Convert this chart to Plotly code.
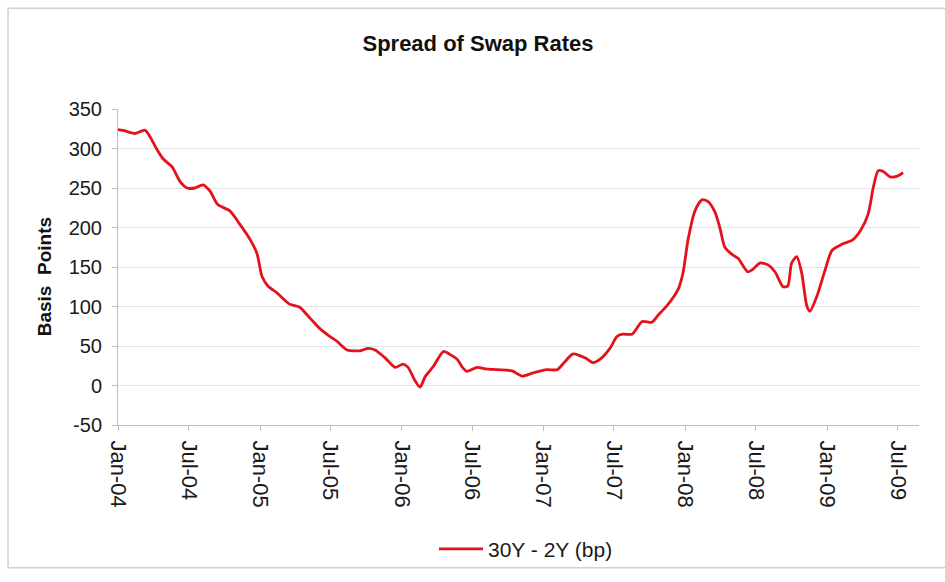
import plotly.graph_objects as go

dates = [
    "2004-01-01", "2004-01-14", "2004-02-13", "2004-03-11", "2004-04-10", "2004-04-26", "2004-05-19",
    "2004-06-09", "2004-06-27", "2004-07-17", "2004-08-07", "2004-08-25", "2004-09-14",
    "2004-10-15", "2004-11-10", "2004-12-06", "2004-12-24", "2005-01-06", "2005-01-21",
    "2005-02-14", "2005-03-18", "2005-04-13", "2005-05-10", "2005-06-04", "2005-06-30",
    "2005-07-18", "2005-08-13", "2005-09-16", "2005-10-06", "2005-10-24", "2005-11-19",
    "2005-12-15", "2006-01-04", "2006-01-17", "2006-02-04", "2006-02-17", "2006-03-02",
    "2006-03-23", "2006-04-18", "2006-05-06", "2006-05-24", "2006-06-06", "2006-06-18",
    "2006-07-14", "2006-08-04", "2006-09-04", "2006-10-12", "2006-11-07", "2006-12-05",
    "2007-01-10", "2007-02-05", "2007-02-25", "2007-03-18", "2007-04-18", "2007-05-08",
    "2007-05-26", "2007-06-21", "2007-07-09", "2007-07-24", "2007-08-17", "2007-09-12",
    "2007-10-07", "2007-10-23", "2007-11-15", "2007-12-13", "2007-12-26", "2008-01-08",
    "2008-01-26", "2008-02-13", "2008-02-28", "2008-03-17", "2008-03-30", "2008-04-12",
    "2008-05-03", "2008-05-16", "2008-06-10", "2008-06-23", "2008-07-11", "2008-07-31",
    "2008-08-19", "2008-09-09", "2008-09-21", "2008-10-01", "2008-10-14", "2008-10-27",
    "2008-11-09", "2008-11-17", "2008-12-05", "2008-12-26", "2009-01-13", "2009-02-08",
    "2009-03-06", "2009-03-27", "2009-04-16", "2009-04-29", "2009-05-12", "2009-05-25",
    "2009-06-12", "2009-06-30", "2009-07-15",
]
spread_bp = [
    324, 323, 319, 323, 299, 287, 277,
    258, 250, 250, 254, 246, 229,
    221, 204, 185, 167, 138, 126,
    117, 103, 99, 85, 72, 62,
    56, 45, 44, 47, 45, 35,
    23, 27, 23, 6, -2, 11,
    24, 43, 39, 33, 23, 18,
    23, 21, 20, 18.5, 12, 16,
    20, 20, 30, 40, 35, 29,
    33, 47, 62, 65, 65, 81,
    80, 89, 101, 121, 142, 184,
    221, 235, 233, 220, 200, 175,
    165, 161, 144, 147, 155, 153,
    144, 125, 126, 155, 163, 142,
    101, 94, 113, 146, 171, 179,
    184, 196, 217, 250, 272, 271,
    264, 265, 269.5,
]
tick_dates = ["2004-01-01", "2004-07-01", "2005-01-01", "2005-07-01", "2006-01-01", "2006-07-01",
              "2007-01-01", "2007-07-01", "2008-01-01", "2008-07-01", "2009-01-01", "2009-07-01"]
tick_labels = ["Jan-04", "Jul-04", "Jan-05", "Jul-05", "Jan-06", "Jul-06",
               "Jan-07", "Jul-07", "Jan-08", "Jul-08", "Jan-09", "Jul-09"]
y_ticks = [-50, 0, 50, 100, 150, 200, 250, 300, 350]
y_tick_labels = ["-50", "0", "50", "100", "150", "200", "250", "300", "350"]

W, H = 945, 582
L, T, R, B = 118, 109, 26, 150
PW, PH = W - L - R, H - T - B


def px(xp):
    return (xp - L) / PW


def py(yp):
    return (T + PH - yp) / PH


fig = go.Figure()
fig.add_trace(go.Scatter(
    x=dates, y=spread_bp, mode="lines", name="30Y - 2Y (bp)",
    line=dict(color="#E3121B", width=2.8, shape="spline", smoothing=0.7),
))

fig.update_layout(
    width=W, height=H,
    margin=dict(l=L, r=R, t=T, b=B),
    paper_bgcolor="white", plot_bgcolor="white",
    font=dict(family="Liberation Sans, Arial, sans-serif", size=18, color="#1a1a1a"),
    title=dict(text="<b>Spread of Swap Rates</b>", x=478 / W, xanchor="center",
               y=1 - 43 / H, yanchor="middle", yref="container", xref="container",
               font=dict(size=22, color="#111111")),
    showlegend=True,
    legend=dict(orientation="h", x=px(526), xanchor="center", y=py(559), yanchor="middle",
                bgcolor="rgba(0,0,0,0)", font=dict(size=21, color="#1a1a1a"), itemwidth=44),
    xaxis=dict(
        type="date", range=["2004-01-01", "2009-08-25"], automargin=False,
        tickmode="array", tickvals=tick_dates, ticktext=tick_labels, tickangle=90,
        showgrid=False, showline=True, linecolor="#BFBFBF", linewidth=1,
        ticks="outside", ticklen=5, tickcolor="#BFBFBF", ticklabelstandoff=5,
        tickfont=dict(size=22), zeroline=False,
    ),
    yaxis=dict(
        range=[-50, 350], tickmode="array", tickvals=y_ticks, ticktext=y_tick_labels,
        automargin=False,
        showgrid=True, gridcolor="#E3E3E3", gridwidth=1,
        showline=True, linecolor="#BFBFBF", linewidth=1,
        ticks="outside", ticklen=5, tickcolor="#BFBFBF", ticklabelstandoff=6,
        zeroline=False, tickfont=dict(size=20),
    ),
    annotations=[dict(text="<b>Basis  Points</b>", xref="paper", yref="paper",
                      x=px(44), y=py(281), xanchor="center", yanchor="middle",
                      textangle=-90, showarrow=False,
                      font=dict(size=19, color="#111111"))],
    shapes=[dict(type="rect", xref="paper", yref="paper",
                 x0=px(8), x1=px(W + 5), y0=py(578), y1=py(6),
                 line=dict(color="#D0D0D0", width=1.5), fillcolor="rgba(0,0,0,0)", layer="below")],
)

fig.write_html("out.html", config={"displayModeBar": False},
               post_script="document.body.style.margin='0';document.documentElement.style.overflow='hidden';")
